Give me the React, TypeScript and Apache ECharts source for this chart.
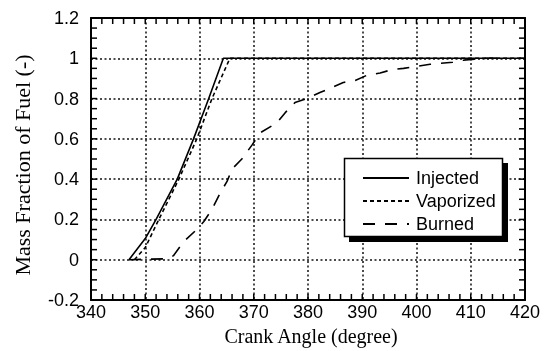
import React, { useEffect, useRef } from "react";
import * as echarts from "echarts";

// Crank angle (degree) and mass fraction of fuel for each curve
const injectedAngle = [347, 350, 352, 355.9, 358.9, 361.7, 364.4, 420];
const injectedFraction = [0, 0.105, 0.2, 0.4, 0.6, 0.8, 1, 1];

const vaporizedAngle = [348, 350, 352.5, 356.2, 359.5, 362.3, 365.6, 420];
const vaporizedFraction = [0, 0.06, 0.2, 0.4, 0.6, 0.8, 1, 1];

const burnedAngle = [
  347, 354.3, 355.2, 357.1, 359.5, 360.8, 362.3, 363.8, 365.1, 366, 367.8,
  369.7, 371.2, 374.3, 375.8, 377.6, 379.8, 382.2, 384.4, 386.5, 388.7,
  390.8, 393.3, 395.4, 397.6, 400, 402.5, 404.4, 406.7, 408.6, 411.2, 413,
  416,
];
const burnedFraction = [
  0, 0.005, 0.02, 0.09, 0.15, 0.19, 0.25, 0.33, 0.39, 0.45, 0.5, 0.57, 0.63,
  0.68, 0.73, 0.78, 0.8, 0.83, 0.855, 0.88, 0.89, 0.915, 0.927, 0.943, 0.95,
  0.96, 0.97, 0.975, 0.98, 0.99, 0.997, 1, 1,
];

const seriesNames = ["Injected", "Vaporized", "Burned"];

// Axis ranges and tick steps (major / minor)
const X_MIN = 340;
const X_MAX = 420;
const X_STEP = 10;
const X_MINOR = 2;
const Y_MIN = -0.2;
const Y_MAX = 1.2;
const Y_STEP = 0.2;
const Y_MINOR = 0.05;

const pairs = (xs: number[], ys: number[]) => xs.map((x, i) => [x, ys[i]]);

// Inward frame ticks: [value, 0] on the x sides, [value, 1] on the y sides
const frameTicks: number[][] = [];
for (let i = 0; i <= Math.round((X_MAX - X_MIN) / X_MINOR); i++) {
  frameTicks.push([X_MIN + i * X_MINOR, 0]);
}
for (let i = 0; i <= Math.round((Y_MAX - Y_MIN) / Y_MINOR); i++) {
  frameTicks.push([+(Y_MIN + i * Y_MINOR).toFixed(3), 1]);
}

const SANS = "Liberation Sans";
const SERIF = "Liberation Serif";

const axisLine = () => ({ show: true, onZero: false, lineStyle: { color: "#000", width: 2 } });

const dottedGrid = () => ({
  show: true,
  lineStyle: { color: "#111", width: 1.5, type: [2, 2.5] },
});

const TICK_LEN = 6;

export default function App() {
  const ref = useRef<HTMLDivElement>(null);

  useEffect(() => {
    if (!ref.current) return;
    const chart = echarts.init(ref.current, null, { renderer: "svg" });

    const tickStyle = { stroke: "#000", lineWidth: 1.5 };

    chart.setOption({
      animation: false,
      grid: { left: 91, right: 25, top: 18, bottom: 51 },
      xAxis: [
        {
          type: "value",
          min: X_MIN,
          max: X_MAX,
          interval: X_STEP,
          name: "Crank Angle (degree)",
          nameLocation: "middle",
          nameGap: 21,
          nameTextStyle: { fontFamily: SERIF, fontSize: 20, color: "#000", padding: [0, 0, 0, 6] },
          axisLine: axisLine(),
          axisTick: { show: false },
          axisLabel: { fontFamily: SANS, fontSize: 18, color: "#000", margin: 3 },
          splitLine: dottedGrid(),
        },
        {
          type: "value",
          min: X_MIN,
          max: X_MAX,
          interval: X_STEP,
          position: "top",
          axisLine: axisLine(),
          axisTick: { show: false },
          axisLabel: { show: false },
          splitLine: { show: false },
        },
      ],
      yAxis: [
        {
          type: "value",
          min: Y_MIN,
          max: Y_MAX,
          interval: Y_STEP,
          name: "Mass Fraction of Fuel (-)",
          nameLocation: "middle",
          nameGap: 58,
          nameRotate: 90,
          nameTextStyle: { fontFamily: SERIF, fontSize: 22, color: "#000", padding: [0, 12, 0, 0] },
          axisLine: axisLine(),
          axisTick: { show: false },
          axisLabel: { fontFamily: SANS, fontSize: 18, color: "#000", margin: 12 },
          splitLine: dottedGrid(),
        },
        {
          type: "value",
          min: Y_MIN,
          max: Y_MAX,
          interval: Y_STEP,
          position: "right",
          axisLine: axisLine(),
          axisTick: { show: false },
          axisLabel: { show: false },
          splitLine: { show: false },
        },
      ],
      // Legend frame with a hard drop shadow
      graphic: [
        {
          type: "rect",
          z: 3,
          shape: { x: 349, y: 163, width: 159, height: 79 },
          style: { fill: "#000" },
        },
        {
          type: "rect",
          z: 3,
          shape: { x: 344.5, y: 158.5, width: 158, height: 78 },
          style: { fill: "#fff", stroke: "#000", lineWidth: 1.5 },
        },
      ],
      legend: {
        orient: "vertical",
        left: 357,
        top: 164,
        z: 5,
        itemWidth: 46,
        itemHeight: 14,
        itemGap: 5,
        data: seriesNames,
        itemStyle: { opacity: 0 },
        textStyle: { fontFamily: SANS, fontSize: 18, color: "#000", padding: [0, 0, 0, 2] },
      },
      series: [
        {
          name: seriesNames[0],
          type: "line",
          data: pairs(injectedAngle, injectedFraction),
          symbol: "none",
          lineStyle: { color: "#000", width: 1.6, type: "solid" },
          itemStyle: { color: "#000" },
        },
        {
          name: seriesNames[1],
          type: "line",
          data: pairs(vaporizedAngle, vaporizedFraction),
          symbol: "none",
          lineStyle: { color: "#000", width: 1.6, type: [4, 3] },
          itemStyle: { color: "#000" },
        },
        {
          name: seriesNames[2],
          type: "line",
          data: pairs(burnedAngle, burnedFraction),
          symbol: "none",
          lineStyle: { color: "#000", width: 1.6, type: [12, 10] },
          itemStyle: { color: "#000" },
        },
        {
          // inward ticks on all four sides of the frame
          name: "frame ticks",
          type: "custom",
          silent: true,
          z: 4,
          data: frameTicks,
          renderItem: (_params: any, api: any) => {
            const v = api.value(0);
            const side = api.value(1);
            if (side === 0) {
              const b = api.coord([v, Y_MIN]);
              const t = api.coord([v, Y_MAX]);
              return {
                type: "group",
                children: [
                  { type: "line", shape: { x1: b[0], y1: b[1], x2: b[0], y2: b[1] - TICK_LEN }, style: tickStyle },
                  { type: "line", shape: { x1: t[0], y1: t[1], x2: t[0], y2: t[1] + TICK_LEN }, style: tickStyle },
                ],
              };
            }
            const l = api.coord([X_MIN, v]);
            const r = api.coord([X_MAX, v]);
            return {
              type: "group",
              children: [
                { type: "line", shape: { x1: l[0], y1: l[1], x2: l[0] + TICK_LEN, y2: l[1] }, style: tickStyle },
                { type: "line", shape: { x1: r[0], y1: r[1], x2: r[0] - TICK_LEN, y2: r[1] }, style: tickStyle },
              ],
            };
          },
        },
      ],
    });

    return () => chart.dispose();
  }, []);

  return (
    <div
      ref={ref}
      style={{ position: "fixed", left: 0, top: 0, width: 550, height: 351 }}
    />
  );
}
